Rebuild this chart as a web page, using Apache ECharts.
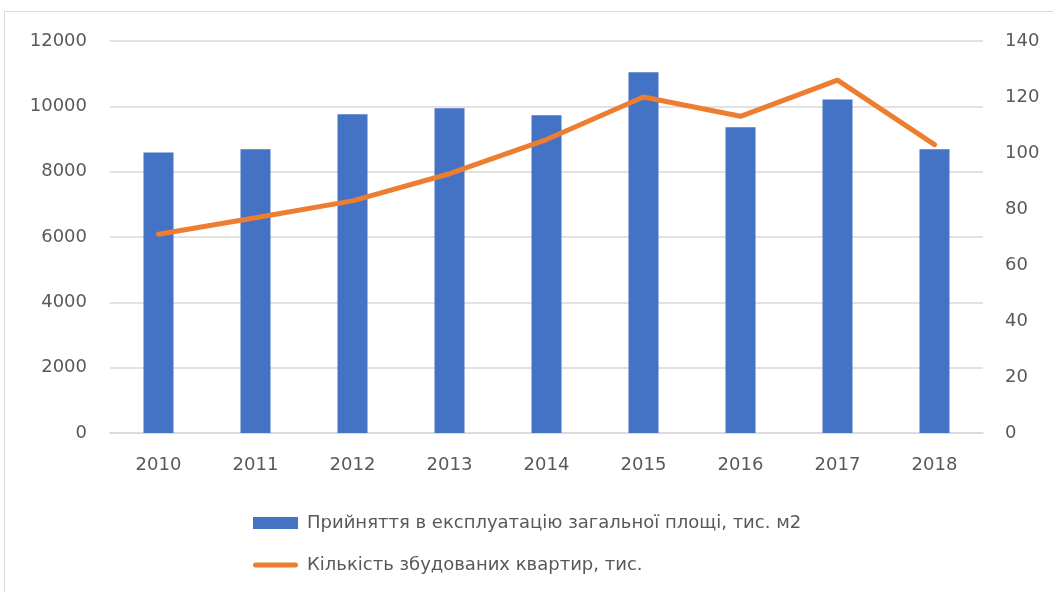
<!DOCTYPE html>
<html>
<head>
<meta charset="utf-8">
<script src="https://cdn.jsdelivr.net/npm/echarts@6/dist/echarts.min.js"></script>
<style>
  html, body { margin: 0; padding: 0; background: #fff; overflow: hidden; }
  #frame { position: absolute; left: 4px; top: 11px; width: 1070px; height: 600px; border: 1px solid #d9d9d9; }
  #chart { position: absolute; left: 0; top: 0; width: 1053px; height: 592px; }
</style>
</head>
<body>
<div id="frame"></div>
<div id="chart"></div>
<script>
const years = ['2010', '2011', '2012', '2013', '2014', '2015', '2016', '2017', '2018']
const areaValues = [8590, 8685, 9757, 9940, 9726, 11042, 9358, 10206, 8685]
const flatValues = [71, 76.9, 82.9, 92.6, 104.8, 120, 113.1, 126, 103]
const areaName = 'Прийняття в експлуатацію загальної площі, тис. м2'
const flatName = 'Кількість збудованих квартир, тис.'

const textColor = '#595959'
const fontFamily = 'DejaVu Sans'

const chart = echarts.init(document.getElementById('chart'))
const option = {
  animation: false,
  textStyle: { fontFamily: fontFamily },
  grid: { left: 110, right: 70, top: 41, bottom: 159 },
  legend: {
    orient: 'vertical',
    left: 248,
    top: 509,
    itemGap: 24,
    itemWidth: 45,
    itemHeight: 12,
    textStyle: { color: textColor, fontSize: 18, fontFamily: fontFamily, padding: [0, 0, 0, 4] },
    data: [
      { name: areaName, icon: 'rect' },
      { name: flatName, icon: 'path://M2.5,0 L42.5,0 A2.5,2.5 0 0 1 42.5,5 L2.5,5 A2.5,2.5 0 0 1 2.5,0 Z' }
    ]
  },
  xAxis: {
    type: 'category',
    data: years,
    axisLine: { lineStyle: { color: '#d9d9d9', width: 1.5 } },
    axisTick: { show: false },
    axisLabel: { color: textColor, fontSize: 18, margin: 23 }
  },
  yAxis: [
    {
      type: 'value',
      min: 0,
      max: 12000,
      interval: 2000,
      axisLine: { show: false },
      axisTick: { show: false },
      axisLabel: { color: textColor, fontSize: 18, margin: 23, formatter: v => String(v) },
      splitLine: { lineStyle: { color: '#d9d9d9', width: 1.5 } }
    },
    {
      type: 'value',
      min: 0,
      max: 140,
      interval: 20,
      axisLine: { show: false },
      axisTick: { show: false },
      axisLabel: { color: textColor, fontSize: 18, margin: 22 },
      splitLine: { show: false }
    }
  ],
  series: [
    {
      name: areaName,
      type: 'bar',
      barWidth: 30,
      itemStyle: { color: '#4472c4' },
      data: areaValues
    },
    {
      name: flatName,
      type: 'line',
      yAxisIndex: 1,
      showSymbol: false,
      symbol: 'none',
      lineStyle: { color: '#ed7d31', width: 5, cap: 'round', join: 'round' },
      itemStyle: { color: '#ed7d31' },
      data: flatValues
    }
  ]
}
chart.setOption(option)
</script>
</body>
</html>
